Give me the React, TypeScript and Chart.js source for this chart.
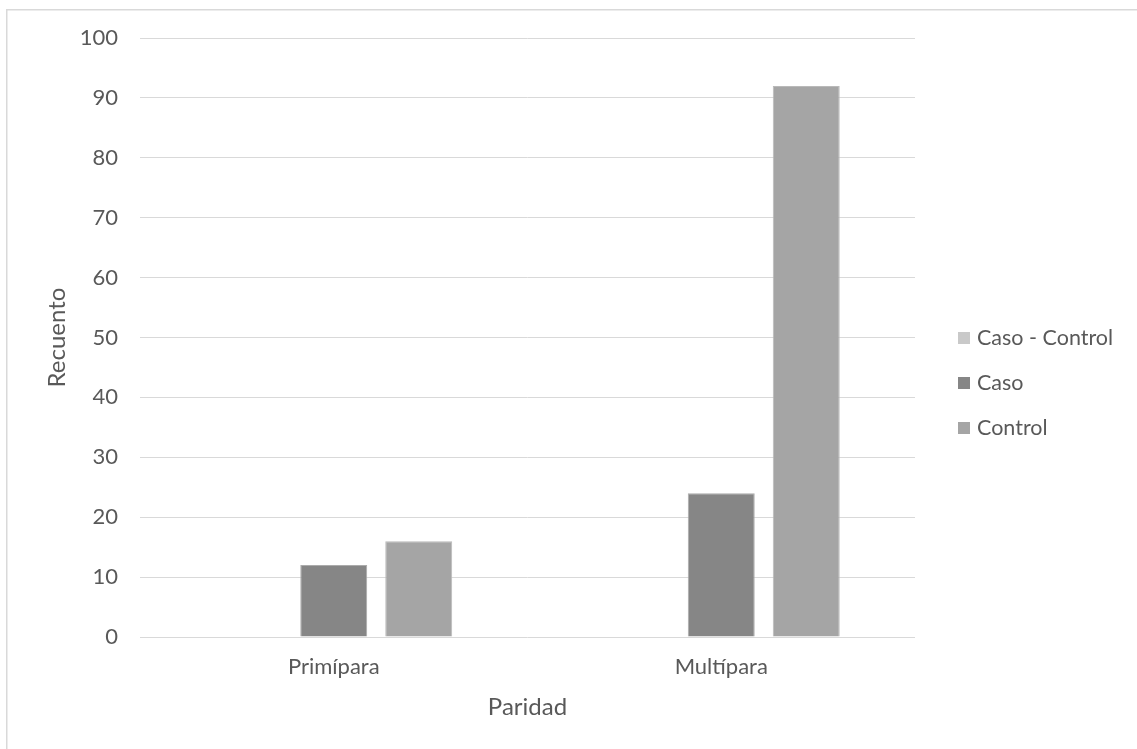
import React, { useEffect, useRef } from "react";
import { Chart, registerables } from "chart.js";

Chart.register(...registerables);

const categories = ["Primípara", "Multípara"];
const seriesLabels = ["Caso - Control", "Caso", "Control"];
const casoControlValues: (number | null)[] = [null, null];
const casoValues = [12, 24];
const controlValues = [16, 92];
const yTicks = [0, 10, 20, 30, 40, 50, 60, 70, 80, 90, 100];

const FONT = "Lato";
const TEXT = "#595959";

const framePlugin = {
  id: "frame",
  beforeDraw(chart: any) {
    const ctx = chart.ctx;
    ctx.save();
    ctx.fillStyle = "#ffffff";
    ctx.fillRect(0, 0, chart.width, chart.height);
    ctx.strokeStyle = "#d9d9d9";
    ctx.lineWidth = 1.5;
    ctx.strokeRect(6.75, 9.75, chart.width + 50, chart.height + 50);
    ctx.restore();
  },
};

const legendPlugin = {
  id: "sideLegend",
  afterDraw(chart: any) {
    const ctx = chart.ctx;
    ctx.save();
    ctx.font = `21.5px ${FONT}`;
    ctx.textBaseline = "middle";
    ctx.textAlign = "left";
    const startY = 338;
    const step = 45;
    chart.data.datasets.forEach((ds: any, i: number) => {
      const y = startY + i * step;
      ctx.fillStyle = ds.backgroundColor;
      ctx.fillRect(958, y - 6, 12, 12);
      ctx.fillStyle = TEXT;
      ctx.fillText(ds.label, 977, y);
    });
    ctx.restore();
  },
};

export default function App() {
  const ref = useRef<HTMLCanvasElement | null>(null);
  useEffect(() => {
    if (!ref.current) return;
    const chart = new Chart(ref.current, {
      type: "bar",
      data: {
        labels: categories,
        datasets: [
          {
            label: seriesLabels[0],
            data: casoControlValues,
            backgroundColor: "#c9c9c9",
            borderColor: "#dadada",
            borderWidth: 1,
          },
          {
            label: seriesLabels[1],
            data: casoValues,
            backgroundColor: "#868686",
            borderColor: "#ababab",
            borderWidth: 1,
          },
          {
            label: seriesLabels[2],
            data: controlValues,
            backgroundColor: "#a5a5a5",
            borderColor: "#b9b9b9",
            borderWidth: 1,
          },
        ] as any,
      },
      options: {
        animation: false,
        responsive: false,
        maintainAspectRatio: false,
        layout: { padding: { top: 38, right: 222, bottom: 0, left: 0 } },
        datasets: {
          bar: { categoryPercentage: 0.658, barPercentage: 0.788 },
        },
        plugins: {
          legend: { display: false },
          tooltip: { enabled: false },
        },
        scales: {
          x: {
            grid: { display: false, drawTicks: false },
            border: { display: false },
            ticks: {
              color: TEXT,
              font: { family: FONT, size: 22 },
              padding: 17,
              maxRotation: 0,
            },
            title: {
              display: true,
              text: "Paridad",
              color: TEXT,
              font: { family: FONT, size: 24 },
              padding: { top: 0, bottom: 27 },
            },
            afterFit(scale: any) {
              scale.height = 112;
            },
          },
          y: {
            min: 0,
            max: 100,
            afterBuildTicks(scale: any) {
              scale.ticks = yTicks.map((v) => ({ value: v }));
            },
            grid: { color: "#d9d9d9", lineWidth: 1, drawTicks: false },
            border: { display: false },
            ticks: {
              color: TEXT,
              font: { family: FONT, size: 22 },
              padding: 22,
            },
            title: {
              display: true,
              text: "Recuento",
              color: TEXT,
              font: { family: FONT, size: 24 },
              padding: { top: 43, bottom: 0 },
            },
            afterFit(scale: any) {
              scale.width = 140;
            },
          },
        },
      },
      plugins: [framePlugin, legendPlugin],
    });
    return () => chart.destroy();
  }, []);
  return (
    <div style={{ position: "absolute", left: 0, top: 0, width: 1137, height: 749 }}>
      <canvas ref={ref} width={1137} height={749} style={{ width: 1137, height: 749, display: "block" }} />
    </div>
  );
}
